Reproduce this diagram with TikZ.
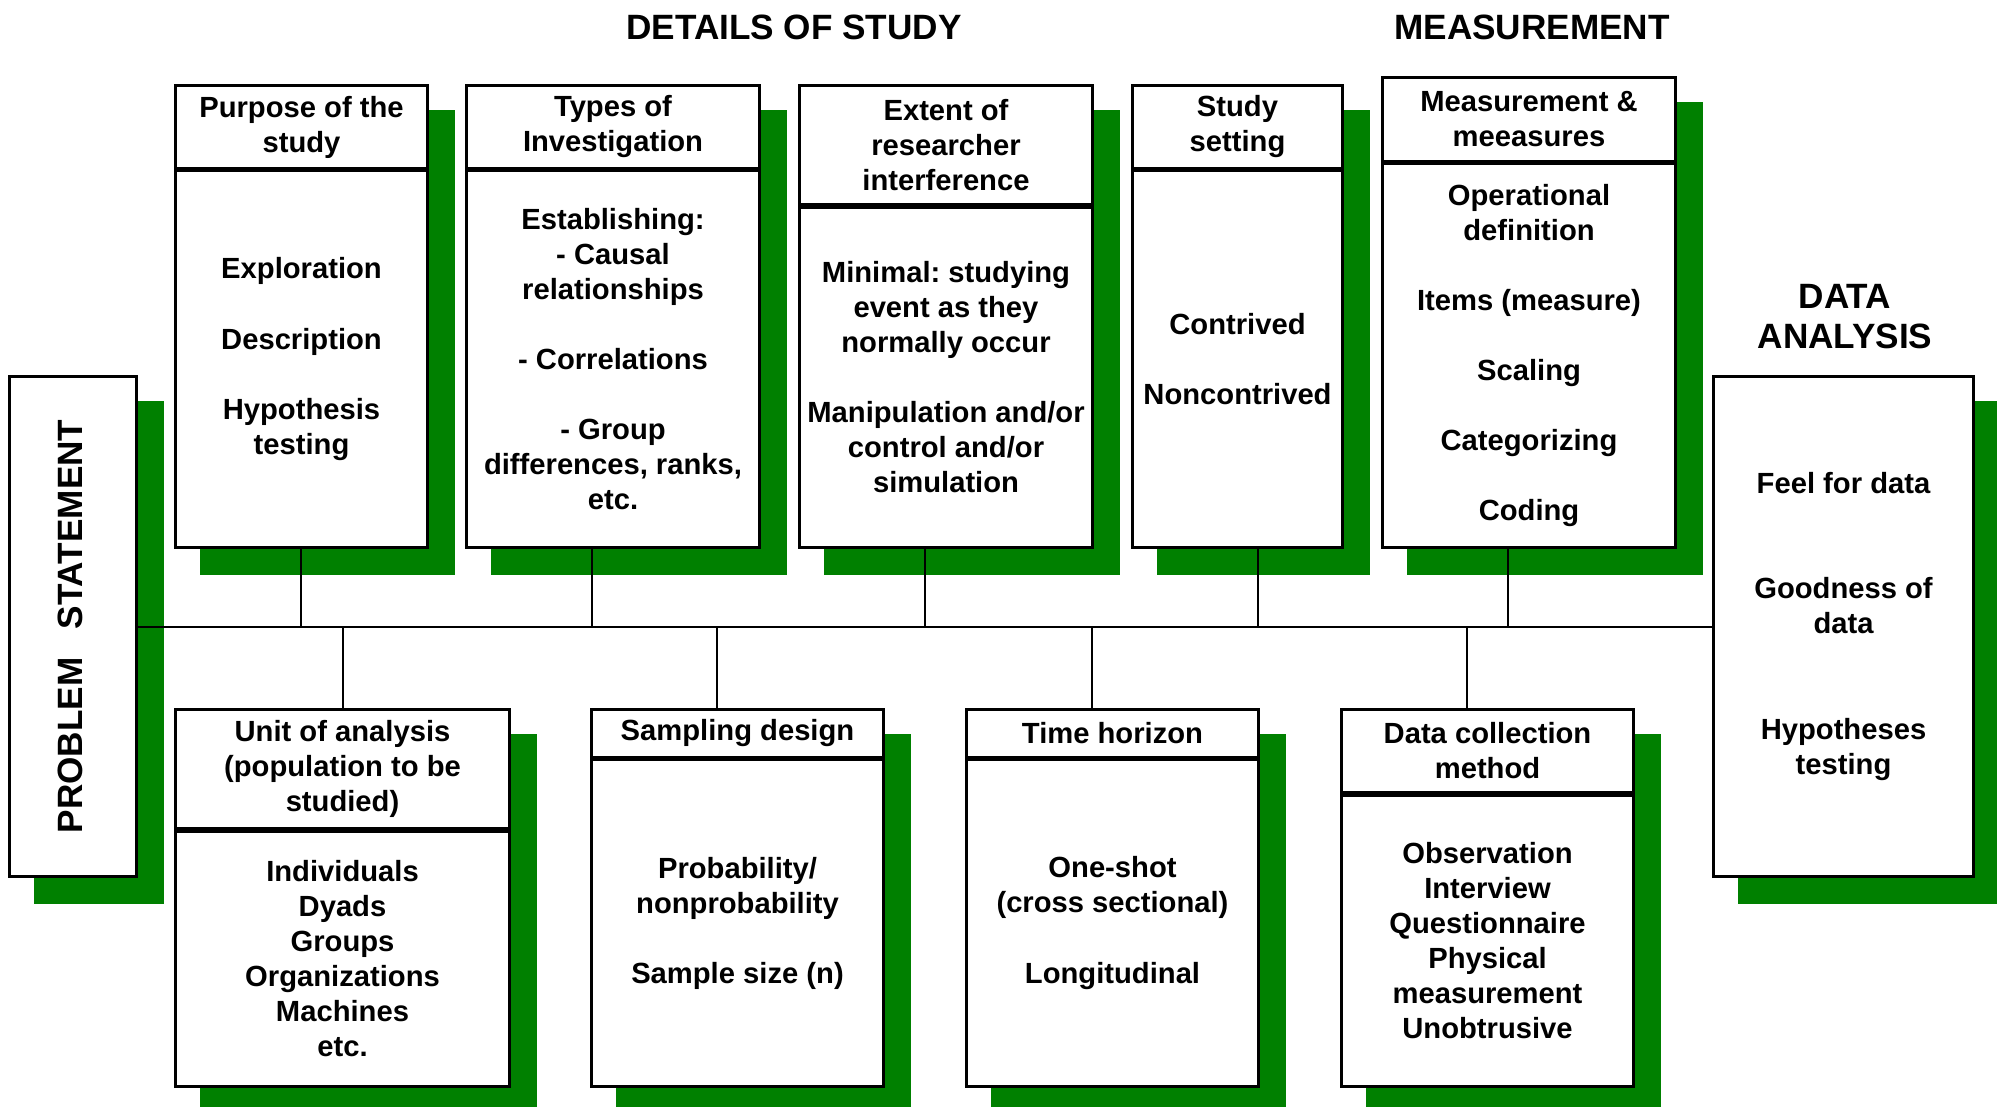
\documentclass[tikz,border=0pt]{standalone}
\usepackage{fontspec}
\setmainfont{Liberation Sans}
\usetikzlibrary{calc,backgrounds}
\definecolor{shadegreen}{RGB}{0,128,0}
\frenchspacing

\begin{document}
\begin{tikzpicture}[x=0.01cm,y=-0.01cm,
        font=\bfseries\fontsize{8.3}{9.96}\selectfont,
        box/.style={draw,line width=0.85pt,fill=white,align=center,inner sep=2pt},
        shade/.style={fill=shadegreen},
        wire/.style={line width=0.75pt},
        title/.style={font=\bfseries\fontsize{10}{11.4}\selectfont,align=center}]
        \useasboundingbox (0,0) rectangle (1997,1107);

        % Headings
        \node[title] (details) at (794,27) {DETAILS OF STUDY};
        \node[title] (measurement) at (1532,27) {MEASUREMENT};
        \node[title] (analysisTitle) at (1845,317) {DATA\\ANALYSIS};

        % Problem statement
        \node[box,minimum width=1.26cm,minimum height=4.99cm] (problem) at (73,626.5)
            {\rotatebox{90}{\raisebox{1.4pt}{\fontsize{10}{12}\selectfont PROBLEM\hspace{0.8em}STATEMENT}}};

        % Details of study, top row
        \node[box,minimum width=2.51cm,minimum height=0.82cm] (purpose) at (301.5,127)
            {Purpose of the\\study};
        \node[box,minimum width=2.51cm,minimum height=3.76cm,anchor=north] (purposeBody) at (purpose.south)
            {Exploration\\[10pt]Description\\[10pt]Hypothesis\\testing};

        \node[box,minimum width=2.92cm,minimum height=0.82cm] (types) at (613,127)
            {Types of\\Investigation};
        \node[box,minimum width=2.92cm,minimum height=3.76cm,anchor=north] (typesBody) at (types.south)
            {Establishing:\\- Causal\\relationships\\[10pt]- Correlations\\[10pt]- Group\\differences, ranks,\\etc.};

        \node[box,minimum width=2.92cm,minimum height=1.18cm] (extent) at (946,145)
            {Extent of\\researcher\\interference};
        \node[box,minimum width=2.92cm,minimum height=3.40cm,anchor=north] (extentBody) at (extent.south)
            {Minimal: studying\\event as they\\normally occur\\[10pt]Manipulation and/or\\control and/or\\simulation};

        \node[box,minimum width=2.09cm,minimum height=0.82cm] (setting) at (1237.5,127)
            {Study\\setting};
        \node[box,minimum width=2.09cm,minimum height=3.76cm,anchor=north] (settingBody) at (setting.south)
            {Contrived\\[10pt]Noncontrived};

        % Measurement
        \node[box,minimum width=2.92cm,minimum height=0.83cm] (measure) at (1529,119.5)
            {Measurement \&\\meeasures};
        \node[box,minimum width=2.92cm,minimum height=3.83cm,anchor=north] (measureBody) at (measure.south)
            {Operational\\definition\\[10pt]Items (measure)\\[10pt]Scaling\\[10pt]Categorizing\\[10pt]Coding};

        % Details of study, bottom row
        \node[box,minimum width=3.33cm,minimum height=1.18cm] (unit) at (342.5,769)
            {Unit of analysis\\(population to be\\studied)};
        \node[box,minimum width=3.33cm,minimum height=2.55cm,anchor=north] (unitBody) at (unit.south)
            {Individuals\\Dyads\\Groups\\Organizations\\Machines\\etc.};

        \node[box,minimum width=2.91cm,minimum height=0.47cm] (sampling) at (737.5,733.5)
            {Sampling design};
        \node[box,minimum width=2.91cm,minimum height=3.26cm,anchor=north] (samplingBody) at (sampling.south)
            {Probability/\\nonprobability\\[10pt]Sample size (n)};

        \node[box,minimum width=2.91cm,minimum height=0.47cm] (horizon) at (1112.5,733.5)
            {Time horizon};
        \node[box,minimum width=2.91cm,minimum height=3.26cm,anchor=north] (horizonBody) at (horizon.south)
            {One-shot\\(cross sectional)\\[10pt]Longitudinal};

        \node[box,minimum width=2.91cm,minimum height=0.82cm] (collection) at (1487.5,751)
            {Data collection\\method};
        \node[box,minimum width=2.91cm,minimum height=2.91cm,anchor=north] (collectionBody) at (collection.south)
            {Observation\\Interview\\Questionnaire\\Physical\\measurement\\Unobtrusive};

        % Data analysis
        \node[box,minimum width=2.59cm,minimum height=4.99cm] (analysis) at (1843.5,626.5)
            {Feel for data\\[20pt]Goodness of\\data\\[20pt]Hypotheses\\testing};

        % Green shadows
        \begin{scope}[on background layer]
            \fill[shade] ($(problem.north west)+(26,26)$) rectangle ($(problem.south east)+(26,26)$);
            \fill[shade] ($(purpose.north west)+(26,26)$) rectangle ($(purposeBody.south east)+(26,26)$);
            \fill[shade] ($(types.north west)+(26,26)$) rectangle ($(typesBody.south east)+(26,26)$);
            \fill[shade] ($(extent.north west)+(26,26)$) rectangle ($(extentBody.south east)+(26,26)$);
            \fill[shade] ($(setting.north west)+(26,26)$) rectangle ($(settingBody.south east)+(26,26)$);
            \fill[shade] ($(measure.north west)+(26,26)$) rectangle ($(measureBody.south east)+(26,26)$);
            \fill[shade] ($(unit.north west)+(26,26)$) rectangle ($(unitBody.south east)+(26,26)$);
            \fill[shade] ($(sampling.north west)+(26,26)$) rectangle ($(samplingBody.south east)+(26,26)$);
            \fill[shade] ($(horizon.north west)+(26,26)$) rectangle ($(horizonBody.south east)+(26,26)$);
            \fill[shade] ($(collection.north west)+(26,26)$) rectangle ($(collectionBody.south east)+(26,26)$);
            \fill[shade] ($(analysis.north west)+(26,26)$) rectangle ($(analysis.south east)+(26,26)$);
        \end{scope}

        % Spine and branches
        \coordinate (spine) at (0,627);
        \draw[wire] (problem.east |- spine) -- (analysis.west |- spine);

        \draw[wire] (purposeBody.south -| 301,0) -- (spine -| 301,0);
        \draw[wire] (typesBody.south -| 592,0) -- (spine -| 592,0);
        \draw[wire] (extentBody.south -| 925,0) -- (spine -| 925,0);
        \draw[wire] (settingBody.south -| 1258,0) -- (spine -| 1258,0);
        \draw[wire] (measureBody.south -| 1508,0) -- (spine -| 1508,0);

        \draw[wire] (spine -| 343,0) -- (unit.north -| 343,0);
        \draw[wire] (spine -| 717,0) -- (sampling.north -| 717,0);
        \draw[wire] (spine -| 1092,0) -- (horizon.north -| 1092,0);
        \draw[wire] (spine -| 1467,0) -- (collection.north -| 1467,0);

    \end{tikzpicture}
\end{document}
